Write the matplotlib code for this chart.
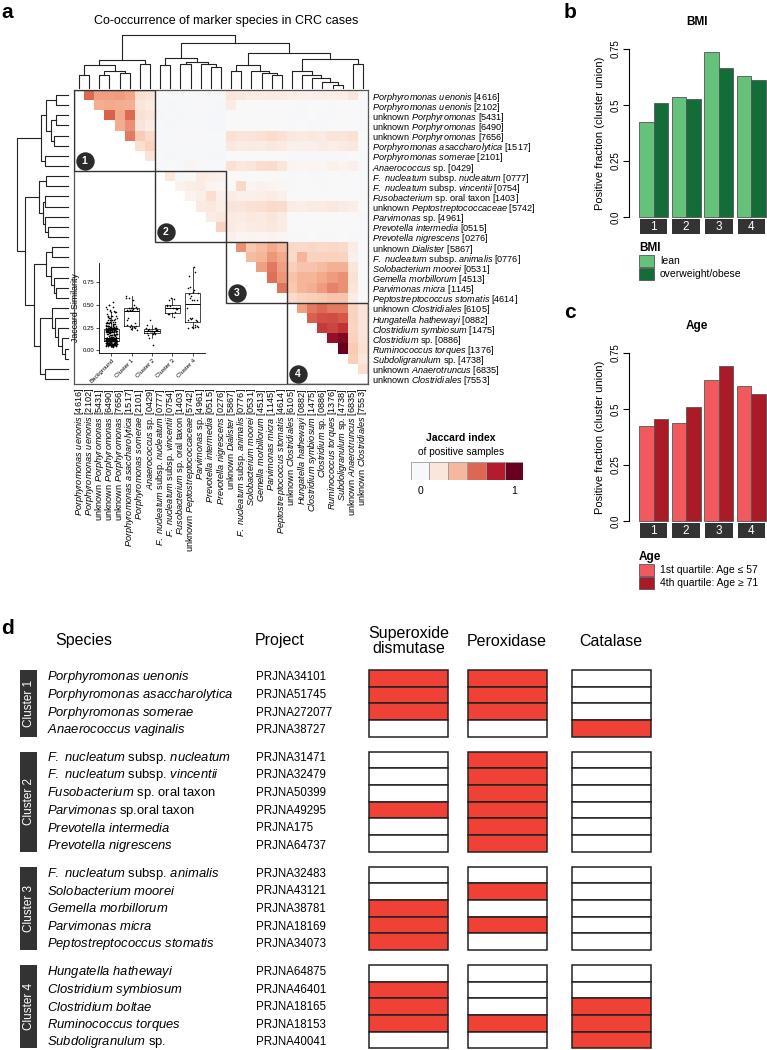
import numpy as np
import matplotlib
matplotlib.use("Agg")
import matplotlib.pyplot as plt
from matplotlib.colors import LinearSegmentedColormap
from matplotlib.patches import Rectangle, Patch

plt.rcParams["font.family"] = ["Liberation Sans", "DejaVu Sans"]
plt.rcParams["mathtext.fontset"] = "custom"
plt.rcParams["mathtext.rm"] = "Liberation Sans"
plt.rcParams["mathtext.it"] = "Liberation Sans:italic"
plt.rcParams["mathtext.bf"] = "Liberation Sans:bold"

# ---------------- data: panel a ----------------
species = [
    "*Porphyromonas uenonis* [4616]", "*Porphyromonas uenonis* [2102]",
    "unknown *Porphyromonas* [5431]", "unknown *Porphyromonas* [6490]",
    "unknown *Porphyromonas* [7656]", "*Porphyromonas asaccharolytica* [1517]",
    "*Porphyromonas somerae* [2101]", "*Anaerococcus* sp. [0429]",
    "*F. nucleatum* subsp. *nucleatum* [0777]", "*F. nucleatum* subsp. *vincentii* [0754]",
    "*Fusobacterium* sp. oral taxon [1403]", "unknown *Peptostreptococcaceae* [5742]",
    "*Parvimonas* sp. [4961]", "*Prevotella intermedia* [0515]",
    "*Prevotella nigrescens* [0276]", "unknown *Dialister* [5867]",
    "*F. nucleatum* subsp. *animalis* [0776]", "*Solobacterium moorei* [0531]",
    "*Gemella morbillorum* [4513]", "*Parvimonas micra* [1145]",
    "*Peptostreptococcus stomatis* [4614]", "unknown *Clostridiales* [6105]",
    "*Hungatella hathewayi* [0882]", "*Clostridium symbiosum* [1475]",
    "*Clostridium* sp. [0886]", "*Ruminococcus torques* [1376]",
    "*Subdoligranulum* sp. [4738]", "unknown *Anaerotruncus* [6835]",
    "unknown *Clostridiales* [7553]",
]
cluster_sizes = [8, 7, 6, 8]

# Jaccard index, upper triangle, row i holds columns i+1 .. 28
jaccard_upper = [
    [0.58, 0.47, 0.47, 0.48, 0.46, 0.28, 0.26, 0.08, 0.06, 0.07, 0.09, 0.10, 0.07, 0.06,
     0.25, 0.24, 0.22, 0.22, 0.23, 0.22, 0.21, 0.20, 0.20, 0.21, 0.20, 0.21, 0.25, 0.12],
    [0.44, 0.45, 0.44, 0.43, 0.25, 0.23, 0.07, 0.05, 0.06, 0.08, 0.08, 0.06, 0.05,
     0.22, 0.14, 0.13, 0.14, 0.13, 0.14, 0.11, 0.10, 0.12, 0.11, 0.10, 0.11, 0.13, 0.08],
    [0.60, 0.45, 0.58, 0.27, 0.25, 0.05, 0.06, 0.05, 0.07, 0.06, 0.05, 0.05,
     0.14, 0.12, 0.12, 0.13, 0.12, 0.12, 0.10, 0.10, 0.11, 0.10, 0.10, 0.11, 0.12, 0.08],
    [0.44, 0.50, 0.26, 0.22, 0.06, 0.05, 0.06, 0.06, 0.07, 0.05, 0.04,
     0.13, 0.12, 0.13, 0.12, 0.12, 0.13, 0.10, 0.11, 0.10, 0.10, 0.12, 0.11, 0.12, 0.07],
    [0.55, 0.36, 0.30, 0.09, 0.07, 0.08, 0.10, 0.09, 0.08, 0.07,
     0.27, 0.25, 0.26, 0.27, 0.29, 0.27, 0.24, 0.23, 0.24, 0.23, 0.26, 0.25, 0.27, 0.14],
    [0.28, 0.33, 0.08, 0.06, 0.07, 0.08, 0.09, 0.07, 0.06,
     0.24, 0.22, 0.23, 0.22, 0.24, 0.23, 0.20, 0.21, 0.20, 0.22, 0.21, 0.23, 0.24, 0.12],
    [0.26, 0.06, 0.05, 0.07, 0.06, 0.06, 0.05, 0.05,
     0.12, 0.11, 0.12, 0.11, 0.12, 0.11, 0.09, 0.10, 0.09, 0.10, 0.09, 0.10, 0.11, 0.07],
    [0.08, 0.12, 0.07, 0.18, 0.10, 0.08, 0.07,
     0.27, 0.24, 0.25, 0.28, 0.29, 0.25, 0.18, 0.17, 0.18, 0.17, 0.19, 0.18, 0.20, 0.10],
    [0.24, 0.06, 0.14, 0.22, 0.21, 0.19,
     0.16, 0.15, 0.14, 0.15, 0.16, 0.15, 0.10, 0.11, 0.10, 0.10, 0.11, 0.10, 0.11, 0.07],
    [0.19, 0.21, 0.22, 0.18, 0.17,
     0.15, 0.31, 0.18, 0.19, 0.18, 0.17, 0.10, 0.12, 0.11, 0.10, 0.11, 0.12, 0.11, 0.08],
    [0.18, 0.21, 0.28, 0.20,
     0.22, 0.20, 0.20, 0.21, 0.22, 0.20, 0.12, 0.12, 0.13, 0.12, 0.14, 0.13, 0.12, 0.08],
    [0.23, 0.24, 0.21,
     0.26, 0.25, 0.27, 0.28, 0.30, 0.29, 0.22, 0.21, 0.23, 0.22, 0.24, 0.22, 0.21, 0.12],
    [0.22, 0.24,
     0.23, 0.22, 0.24, 0.23, 0.25, 0.22, 0.13, 0.12, 0.13, 0.12, 0.13, 0.12, 0.12, 0.08],
    [0.33,
     0.23, 0.21, 0.22, 0.23, 0.24, 0.22, 0.12, 0.11, 0.12, 0.11, 0.12, 0.11, 0.12, 0.08],
    [0.20, 0.17, 0.18, 0.17, 0.18, 0.17, 0.10, 0.10, 0.11, 0.10, 0.10, 0.11, 0.10, 0.07],
    [0.50, 0.37, 0.40, 0.45, 0.41, 0.31, 0.30, 0.31, 0.30, 0.31, 0.30, 0.22, 0.14],
    [0.40, 0.42, 0.49, 0.45, 0.30, 0.42, 0.33, 0.33, 0.34, 0.33, 0.20, 0.12],
    [0.47, 0.55, 0.47, 0.35, 0.38, 0.38, 0.40, 0.43, 0.43, 0.25, 0.12],
    [0.57, 0.49, 0.38, 0.42, 0.42, 0.45, 0.48, 0.50, 0.27, 0.15],
    [0.56, 0.37, 0.42, 0.44, 0.48, 0.53, 0.50, 0.25, 0.12],
    [0.30, 0.33, 0.35, 0.36, 0.38, 0.38, 0.22, 0.12],
    [0.47, 0.55, 0.58, 0.55, 0.55, 0.33, 0.26],
    [0.60, 0.63, 0.64, 0.62, 0.33, 0.26],
    [0.68, 0.66, 0.70, 0.32, 0.25],
    [0.82, 0.86, 0.34, 0.26],
    [0.92, 0.36, 0.27],
    [0.35, 0.24],
    [0.28],
]

# hierarchical clustering: (node a, node b, height); leaves 0..28, merge k -> node 29+k
merges = [
    (0, 1, 0.24), (2, 3, 0.24), (4, 5, 0.28), (30, 31, 0.33), (29, 32, 0.43),
    (6, 7, 0.45), (33, 34, 0.52),
    (8, 9, 0.43), (10, 11, 0.46), (13, 14, 0.39), (12, 38, 0.45), (37, 39, 0.50),
    (36, 40, 0.56),
    (15, 16, 0.32), (19, 20, 0.24), (18, 43, 0.28), (17, 44, 0.33), (42, 45, 0.43),
    (25, 26, 0.06), (24, 47, 0.11), (23, 48, 0.19), (22, 49, 0.25), (21, 50, 0.32),
    (27, 28, 0.46), (51, 52, 0.54),
    (46, 53, 0.66), (41, 54, 0.85), (35, 55, 1.00),
]
inset_groups = ["Background", "Cluster 1", "Cluster 2", "Cluster 3", "Cluster 4"]

# ---------------- data: panels b, c ----------------
clusters = ["1", "2", "3", "4"]
bmi_lean = [0.424, 0.537, 0.738, 0.631]
bmi_obese = [0.509, 0.525, 0.665, 0.610]
age_q1 = [0.424, 0.437, 0.631, 0.603]
age_q4 = [0.455, 0.507, 0.694, 0.568]

# ---------------- data: panel d ----------------
d_species = [
    "*Porphyromonas uenonis*", "*Porphyromonas asaccharolytica*",
    "*Porphyromonas somerae*", "*Anaerococcus vaginalis*",
    "*F. nucleatum* subsp. *nucleatum*", "*F. nucleatum* subsp. *vincentii*",
    "*Fusobacterium* sp. oral taxon", "*Parvimonas* sp.oral taxon",
    "*Prevotella intermedia*", "*Prevotella nigrescens*",
    "*F. nucleatum* subsp. *animalis*", "*Solobacterium moorei*",
    "*Gemella morbillorum*", "*Parvimonas micra*", "*Peptostreptococcus stomatis*",
    "*Hungatella hathewayi*", "*Clostridium symbiosum*", "*Clostridium boltae*",
    "*Ruminococcus torques*", "*Subdoligranulum* sp.",
]
d_project = [
    "PRJNA34101", "PRJNA51745", "PRJNA272077", "PRJNA38727",
    "PRJNA31471", "PRJNA32479", "PRJNA50399", "PRJNA49295", "PRJNA175", "PRJNA64737",
    "PRJNA32483", "PRJNA43121", "PRJNA38781", "PRJNA18169", "PRJNA34073",
    "PRJNA64875", "PRJNA46401", "PRJNA18165", "PRJNA18153", "PRJNA40041",
]
d_sizes = [4, 6, 5, 5]
enzymes = ["Superoxide\ndismutase", "Peroxidase", "Catalase"]
superoxide = [1, 1, 1, 0, 0, 0, 0, 1, 0, 0, 0, 0, 1, 1, 1, 0, 1, 1, 1, 0]
peroxidase = [1, 1, 1, 0, 1, 1, 1, 1, 1, 1, 0, 1, 0, 1, 0, 0, 0, 0, 1, 0]
catalase = [0, 0, 0, 1, 0, 0, 0, 0, 0, 0, 0, 0, 0, 0, 0, 0, 0, 1, 1, 1]

W, H = 767, 1050
fig = plt.figure(figsize=(W / 100, H / 100), dpi=100)


def px_axes(left, top, width, height):
    return fig.add_axes([left / W, 1 - (top + height) / H, width / W, height / H])


def ftext(x, y, s, **kw):
    return fig.text(x / W, 1 - y / H, s, **kw)


def ital(s):
    # *...* -> italic mathtext
    parts = s.split("*")
    out = ""
    for k, p in enumerate(parts):
        if k % 2 == 1 and p:
            out += r"$\mathit{" + p.replace(" ", r"\ ") + "}$"
        else:
            out += p
    return out


def dendro(ax, n, horizontal):
    pos = {i: i + 0.5 for i in range(n)}
    hgt = {i: 0.0 for i in range(n)}
    for k, (a, b, h) in enumerate(merges):
        xs = [pos[a], pos[a], pos[b], pos[b]]
        ys = [hgt[a], h, h, hgt[b]]
        if horizontal:
            ax.plot(ys, xs, color="#222222", lw=0.8, clip_on=False)
        else:
            ax.plot(xs, ys, color="#222222", lw=0.8, clip_on=False)
        pos[n + k] = (pos[a] + pos[b]) / 2
        hgt[n + k] = h
    ax.axis("off")


# ================= panel a =================
n = len(species)
M = np.full((n, n), np.nan)
for i, row in enumerate(jaccard_upper):
    M[i, i + 1:] = row

cmap = LinearSegmentedColormap.from_list("jac", [
    (0.0, "#f4f6fa"), (0.15, "#faf9f9"), (0.25, "#fbe6db"), (0.35, "#f9cfba"),
    (0.45, "#f4aa8c"), (0.6, "#d9604c"), (0.76, "#b2182b"), (0.92, "#67001f"),
    (1.0, "#5a001a")])
cmap.set_bad("white")

ax_h = px_axes(74, 90, 294, 294)
ax_h.imshow(M, cmap=cmap, vmin=0, vmax=1, extent=(0, n, n, 0), aspect="auto",
            interpolation="nearest")
ax_h.set_xlim(0, n)
ax_h.set_ylim(n, 0)
ax_h.set_xticks(np.arange(n) + 0.5)
ax_h.set_xticklabels([ital(s) for s in species], rotation=90, fontsize=6.6)
ax_h.yaxis.tick_right()
ax_h.set_yticks(np.arange(n) + 0.5)
ax_h.set_yticklabels([ital(s) for s in species], fontsize=6.6)
ax_h.tick_params(length=0, pad=3)
for sp in ax_h.spines.values():
    sp.set_color("#555555")
    sp.set_linewidth(0.9)

starts = np.cumsum([0] + cluster_sizes[:-1])
for k, (s, m) in enumerate(zip(starts, cluster_sizes)):
    ax_h.add_patch(Rectangle((s, s), m, m, fill=False, ec="#333333", lw=1.0, zorder=4))
    ax_h.scatter(s + 1.05, s + m - 1.0, s=150, color="#2b2b2b", zorder=5, clip_on=False)
    ax_h.text(s + 1.05, s + m - 1.0, str(k + 1), color="white", fontsize=7.5,
              fontweight="bold", ha="center", va="center", zorder=6)

ax_top = px_axes(74, 35, 294, 53)
ax_top.set_xlim(0, n)
ax_top.set_ylim(0, 1)
dendro(ax_top, n, horizontal=False)

ax_left = px_axes(17, 90, 51, 294)
ax_left.set_xlim(1, 0)
ax_left.set_ylim(n, 0)
dendro(ax_left, n, horizontal=True)

ftext(226, 21, "Co-occurrence of marker species in CRC cases", fontsize=9,
      ha="center", va="center")

# inset boxplot: within-cluster vs background similarities
cl = np.repeat(np.arange(len(cluster_sizes)), cluster_sizes)
iu = np.triu_indices(n, 1)
vals = M[iu]
same = cl[iu[0]] == cl[iu[1]]
groups = [vals[~same]] + [vals[same & (cl[iu[0]] == k)] for k in range(4)]

ax_in = px_axes(99, 263, 106, 90)
ax_in.boxplot(groups, positions=range(5), widths=0.75, showfliers=False, showcaps=False,
              medianprops=dict(color="black", lw=0.7), boxprops=dict(lw=0.5),
              whiskerprops=dict(lw=0.5))
for g, v in enumerate(groups):
    jit = ((np.arange(len(v)) * 0.618034) % 1 - 0.5) * 0.55
    ax_in.scatter(g + jit, v, s=1.3, color="black", lw=0, zorder=3)
ax_in.set_xlim(-0.6, 4.6)
ax_in.set_ylim(-0.03, 0.96)
ax_in.set_yticks([0, 0.25, 0.5, 0.75])
ax_in.set_yticklabels(["0.00", "0.25", "0.50", "0.75"], fontsize=4.3)
ax_in.set_xticks(range(5))
ax_in.set_xticklabels(inset_groups, rotation=45, ha="right", rotation_mode="anchor",
                      fontsize=4.3)
ax_in.tick_params(length=2, width=0.5, pad=1.5)
ax_in.set_ylabel("Jaccard Similarity", fontsize=6.3, labelpad=2)
ax_in.patch.set_alpha(0)
for sp in ["top", "right"]:
    ax_in.spines[sp].set_visible(False)
for sp in ["left", "bottom"]:
    ax_in.spines[sp].set_linewidth(0.6)

# heatmap legend
ftext(461, 438, "Jaccard index", fontsize=7.5, fontweight="bold", ha="center", va="center")
ftext(461, 452, "of positive samples", fontsize=7.3, ha="center", va="center")
ax_lg = px_axes(410.7, 461.7, 112.6, 18.3)
ax_lg.set_xlim(0, 6)
ax_lg.set_ylim(0, 1)
for k in range(6):
    ax_lg.add_patch(Rectangle((k, 0), 1, 1, fc=cmap((k + 0.5) / 6), ec="#9a9a9a", lw=0.6))
ax_lg.text(0.5, -0.35, "0", fontsize=7.5, ha="center", va="top")
ax_lg.text(5.5, -0.35, "1", fontsize=7.5, ha="center", va="top")
ax_lg.axis("off")


# ================= panels b, c =================
def bar_panel(top, bottom, first, second, colors, title, labels, leg_top):
    ax = px_axes(629, top, 137, bottom - top)
    x0 = np.arange(len(clusters)) * 2.25
    ax.bar(x0 + 0.5, first, width=1, color=colors[0], ec="#555555", lw=0.6, clip_on=False)
    ax.bar(x0 + 1.5, second, width=1, color=colors[1], ec="#555555", lw=0.6, clip_on=False)
    ax.set_xlim(-0.69, 8.75)
    ax.set_ylim(0, 0.75)
    ax.set_xticks([])
    ax.set_yticks([0, 0.25, 0.5, 0.75])
    ax.set_yticklabels(["0.0", "0.25", "0.5", "0.75"], fontsize=7, rotation=90, va="center")
    ax.tick_params(axis="y", length=4, width=0.8, pad=2)
    for sp in ["top", "right", "bottom"]:
        ax.spines[sp].set_visible(False)
    ax.spines["left"].set_linewidth(0.8)
    ax.set_ylabel("Positive fraction (cluster union)", fontsize=8, labelpad=4)
    ftext(697, top - 27, title, fontsize=8.5, fontweight="bold", ha="center", va="center")

    st = px_axes(629, bottom + 2, 137, 15)
    st.set_xlim(-0.69, 8.75)
    st.set_ylim(0, 1)
    for k, lab in enumerate(clusters):
        st.add_patch(Rectangle((x0[k] + 0.05, 0), 1.9, 1, fc="#333333", ec="none"))
        st.text(x0[k] + 1, 0.45, lab, color="white", fontsize=8.5, ha="center", va="center")
    st.axis("off")

    handles = [Patch(fc=c, ec="#555555", lw=0.6) for c in colors]
    ax.legend(handles, labels, title=title, loc="upper left",
              bbox_to_anchor=(639 / W, 1 - leg_top / H), bbox_transform=fig.transFigure,
              frameon=False, alignment="left", fontsize=7.5, handlelength=1.4,
              handleheight=1.4, labelspacing=0.08, handletextpad=0.6, borderpad=0,
              borderaxespad=0, title_fontproperties={"weight": "bold", "size": 8.5})


bar_panel(49, 217, bmi_lean, bmi_obese, ["#66c27a", "#146c38"], "BMI",
          ["lean", "overweight/obese"], 242)
bar_panel(353, 521, age_q1, age_q4, ["#f05a5f", "#a91b26"], "Age",
          ["1st quartile: Age \u2264 57", "4th quartile: Age \u2265 71"], 551)

# ================= panel d =================
ax_d = px_axes(0, 600, W, 450)
ax_d.set_xlim(0, W)
ax_d.set_ylim(1050, 600)
ax_d.axis("off")

ax_d.text(84, 641, "Species", fontsize=11.5, ha="center", va="center")
ax_d.text(280, 641, "Project", fontsize=11.5, ha="center", va="center")
col_left = [369.3, 467.7, 571.7]
col_w = 79
for x, name in zip(col_left, enzymes):
    ax_d.text(x + col_w / 2, 641, name, fontsize=11.5, ha="center", va="center",
              linespacing=0.95)

box_h, box_gap = 16.67, 15
txt_h, txt_gap = 17.65, 27.6
box_top, txt_y = [], []
yb, yt = 670, 677.3
for g, m in enumerate(d_sizes):
    box_top += [yb + r * box_h for r in range(m)]
    txt_y += [yt + r * txt_h for r in range(m)]
    ax_d.add_patch(Rectangle((20, yb), 17, m * box_h, fc="#333333", ec="none"))
    ax_d.text(28.5, yb + m * box_h / 2, f"Cluster {g + 1}", color="white", fontsize=8.5,
              rotation=90, ha="center", va="center")
    yb += m * box_h + box_gap
    yt += (m - 1) * txt_h + txt_gap

for k in range(len(d_species)):
    ax_d.text(47, txt_y[k], ital(d_species[k]), fontsize=9.4, ha="left", va="center")
    ax_d.text(256, txt_y[k], d_project[k], fontsize=8.3, ha="left", va="center")
    for x, flags in zip(col_left, [superoxide, peroxidase, catalase]):
        fc = "#ef4136" if flags[k] else "white"
        ax_d.add_patch(Rectangle((x, box_top[k]), col_w, box_h, fc=fc, ec="#222222", lw=1.1))

# panel letters
for lab, x, y in [("a", 7, 12), ("b", 570, 12), ("c", 570, 312), ("d", 8, 628)]:
    ftext(x, y, lab, fontsize=15, fontweight="bold", ha="center", va="center")

fig.savefig("out.png", dpi=100)
